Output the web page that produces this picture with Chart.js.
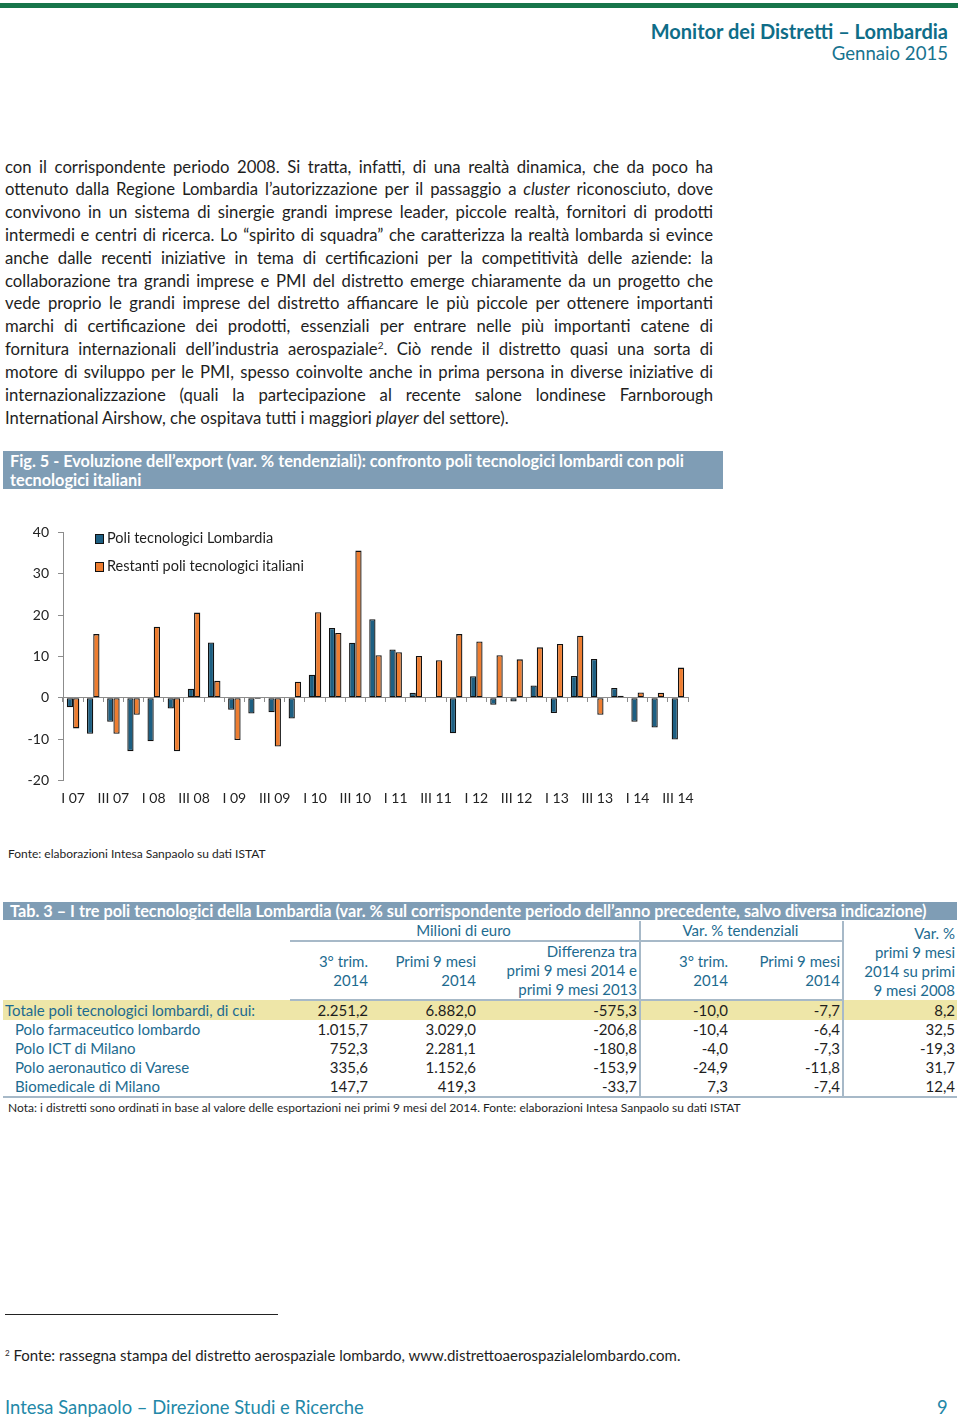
<!DOCTYPE html>
<html lang="it">
<head>
<meta charset="utf-8">
<title>Monitor dei Distretti – Lombardia</title>
<script src="https://cdn.jsdelivr.net/npm/chart.js@4.4.1/dist/chart.umd.min.js"></script>
<style>
  html,body{margin:0;padding:0;background:#fff;}
  body{width:960px;height:1421px;position:relative;overflow:hidden;font-family:Lato,"Noto Sans",sans-serif;color:#1e1e1e;}
  .abs{position:absolute;}
  #topbar{left:0;top:3px;width:958px;height:5px;background:#17754a;}
  #hdr1{right:12px;top:19px;font-size:20px;font-weight:700;color:#0f6d88;}
  #hdr2{right:12px;top:42px;font-size:18.6px;color:#17738f;}
  #body{left:5px;top:155.6px;width:708px;font-size:16.7px;line-height:22.82px;}
  #body div{text-align:justify;text-align-last:justify;}
  #body div.last{text-align:left;text-align-last:left;}
  sup{font-size:10px;line-height:0;vertical-align:6px;}
  .bar{background:#7f9db5;color:#fff;font-weight:700;}
  #figcap{left:3px;top:451px;width:713px;height:38px;padding-left:7px;font-size:16.3px;line-height:19px;}
  #chartbox{left:0;top:515px;width:720px;height:300px;}
  #legend{left:95px;top:524px;font-size:14.5px;line-height:28px;}
  #legend span.sw{display:inline-block;width:7px;height:8px;border:1.3px solid #111;margin-right:3px;vertical-align:-1px;}
  #fonte{left:8px;top:846px;font-size:12px;}
  #tabcap{left:3px;top:902px;width:947px;height:18px;padding-left:7px;font-size:16.3px;line-height:18px;}
  table{position:absolute;left:3px;top:921px;width:954px;border-collapse:collapse;table-layout:fixed;font-size:15px;}
  td{padding:0 2px 0 0;line-height:19px;white-space:nowrap;}
  .hd{color:#1d6b90;text-align:right;vertical-align:middle;}
  .ctr{text-align:center;}
  .ul{border-bottom:2px solid #a7b9c8;}
  .vl{border-left:2px solid #a7b9c8;}
  .hline td{border-bottom:2px solid #a7b9c8;}
  .num{text-align:right;}
  .lab{color:#1d6b90;padding-left:12px;}
  .tot td{background:#eee6a8;}
  .tot td.lab{padding-left:2px;}
  .lastrow td{border-bottom:2px solid #a7b9c8;}
  #nota{left:8px;top:1100px;font-size:12px;}
  #fnline{left:5px;top:1314px;width:273px;height:1px;background:#222;}
  #fn{left:5px;top:1346px;font-size:15px;}
  #fn sup{font-size:8px;vertical-align:5px;}
  #foot{left:5px;top:1396px;font-size:18.4px;color:#2388a8;}
  #page{left:937px;top:1396px;font-size:18.4px;color:#2388a8;}
</style>
</head>
<body>
<div id="topbar" class="abs"></div>
<div id="hdr1" class="abs">Monitor dei Distretti – Lombardia</div>
<div id="hdr2" class="abs">Gennaio 2015</div>

<div id="body" class="abs">
  <div>con il corrispondente periodo 2008. Si tratta, infatti, di una realtà dinamica, che da poco ha</div>
  <div>ottenuto dalla Regione Lombardia l’autorizzazione per il passaggio a <i>cluster</i> riconosciuto, dove</div>
  <div>convivono in un sistema di sinergie grandi imprese leader, piccole realtà, fornitori di prodotti</div>
  <div>intermedi e centri di ricerca. Lo “spirito di squadra” che caratterizza la realtà lombarda si evince</div>
  <div>anche dalle recenti iniziative in tema di certificazioni per la competitività delle aziende: la</div>
  <div>collaborazione tra grandi imprese e PMI del distretto emerge chiaramente da un progetto che</div>
  <div>vede proprio le grandi imprese del distretto affiancare le più piccole per ottenere importanti</div>
  <div>marchi di certificazione dei prodotti, essenziali per entrare nelle più importanti catene di</div>
  <div>fornitura internazionali dell’industria aerospaziale<sup>2</sup>. Ciò rende il distretto quasi una sorta di</div>
  <div>motore di sviluppo per le PMI, spesso coinvolte anche in prima persona in diverse iniziative di</div>
  <div>internazionalizzazione (quali la partecipazione al recente salone londinese Farnborough</div>
  <div class="last">International Airshow, che ospitava tutti i maggiori <i>player</i> del settore).</div>
</div>

<div id="figcap" class="abs bar">Fig. 5 - Evoluzione dell’export (var. % tendenziali): confronto poli tecnologici lombardi con poli<br>tecnologici italiani</div>

<div id="chartbox" class="abs"><canvas id="chart" width="720" height="300"></canvas></div>
<div id="legend" class="abs"></div>

<div id="fonte" class="abs">Fonte: elaborazioni Intesa Sanpaolo su dati ISTAT</div>

<div id="tabcap" class="abs bar">Tab. 3 – I tre poli tecnologici della Lombardia (var. % sul corrispondente periodo dell’anno precedente, salvo diversa indicazione)</div>
<table>
  <colgroup><col style="width:287px"><col style="width:80px"><col style="width:108px"><col style="width:162px"><col style="width:90px"><col style="width:113px"><col style="width:114px"></colgroup>
  <tr>
    <td rowspan="2"></td>
    <td colspan="3" class="hd ctr ul" style="height:18px">Milioni di euro</td>
    <td colspan="2" class="hd ctr ul vl">Var. % tendenziali</td>
    <td rowspan="2" class="hd vl" style="vertical-align:bottom">Var. %<br>primi 9 mesi<br>2014 su primi<br>9 mesi 2008</td>
  </tr>
  <tr class="hline">
    <td class="hd" style="height:57px">3° trim.<br>2014</td>
    <td class="hd">Primi 9 mesi<br>2014</td>
    <td class="hd">Differenza tra<br>primi 9 mesi 2014 e<br>primi 9 mesi 2013</td>
    <td class="hd vl">3° trim.<br>2014</td>
    <td class="hd">Primi 9 mesi<br>2014</td>
  </tr>
  <tr class="tot"><td class="lab">Totale poli tecnologici lombardi, di cui:</td><td class="num">2.251,2</td><td class="num">6.882,0</td><td class="num">-575,3</td><td class="num vl">-10,0</td><td class="num">-7,7</td><td class="num vl">8,2</td></tr>
  <tr><td class="lab">Polo farmaceutico lombardo</td><td class="num">1.015,7</td><td class="num">3.029,0</td><td class="num">-206,8</td><td class="num vl">-10,4</td><td class="num">-6,4</td><td class="num vl">32,5</td></tr>
  <tr><td class="lab">Polo ICT di Milano</td><td class="num">752,3</td><td class="num">2.281,1</td><td class="num">-180,8</td><td class="num vl">-4,0</td><td class="num">-7,3</td><td class="num vl">-19,3</td></tr>
  <tr><td class="lab">Polo aeronautico di Varese</td><td class="num">335,6</td><td class="num">1.152,6</td><td class="num">-153,9</td><td class="num vl">-24,9</td><td class="num">-11,8</td><td class="num vl">31,7</td></tr>
  <tr class="lastrow"><td class="lab">Biomedicale di Milano</td><td class="num">147,7</td><td class="num">419,3</td><td class="num">-33,7</td><td class="num vl">7,3</td><td class="num">-7,4</td><td class="num vl">12,4</td></tr>
</table>
<div id="nota" class="abs">Nota: i distretti sono ordinati in base al valore delle esportazioni nei primi 9 mesi del 2014. Fonte: elaborazioni Intesa Sanpaolo su dati ISTAT</div>

<div id="fnline" class="abs"></div>
<div id="fn" class="abs"><sup>2</sup> Fonte: rassegna stampa del distretto aerospaziale lombardo, www.distrettoaerospazialelombardo.com.</div>
<div id="foot" class="abs">Intesa Sanpaolo – Direzione Studi e Ricerche</div>
<div id="page" class="abs">9</div>

<script>
// dati (var. % tendenziali)
const quarters = [
  'I 07','II 07','III 07','IV 07',
  'I 08','II 08','III 08','IV 08',
  'I 09','II 09','III 09','IV 09',
  'I 10','II 10','III 10','IV 10',
  'I 11','II 11','III 11','IV 11',
  'I 12','II 12','III 12','IV 12',
  'I 13','II 13','III 13','IV 13',
  'I 14','II 14','III 14'
];
const lombardia = [
  -2.3, -8.7, -5.8, -12.9,
  -10.5, -2.6, 2.2, 13.4,
  -2.9, -3.8, -3.5, -5.0,
  5.6, 16.9, 13.3, 19.0,
  11.7, 1.2, 0.1, -8.6,
  5.2, -1.7, -0.9, 3.0,
  -3.7, 5.3, 9.4, 2.4,
  -5.8, -7.2, -10.1
];
const restanti = [
  -7.4, 15.4, -8.7, -4.1,
  17.2, -12.9, 20.6, 4.1,
  -10.2, -0.3, -11.8, 3.9,
  20.7, 15.7, 35.6, 10.3,
  11.0, 10.1, 9.1, 15.4,
  13.6, 10.3, 9.3, 12.2,
  13.0, 15.0, -4.1, 0.5,
  1.3, 1.2, 7.3
];
const seriesNames = ['Poli tecnologici Lombardia', 'Restanti poli tecnologici italiani'];
const seriesColors = ['#1d5f82', '#ee7d30'];
const yMin = -20, yMax = 40, yStep = 10;

(() => {
  'use strict';
  Chart.defaults.font.family = 'Lato, "Noto Sans", sans-serif';
  Chart.defaults.color = '#222';

  const axisGrey = '#8c8c8c';
  const bar = (label, data, color) => ({
    label, data, backgroundColor: color,
    borderColor: '#111', borderWidth: 1.3, borderSkipped: false,
    categoryPercentage: 0.62, barPercentage: 1
  });

  new Chart(document.getElementById('chart').getContext('2d'), {
    type: 'bar',
    data: {
      labels: quarters,
      datasets: [
        bar(seriesNames[0], lombardia, seriesColors[0]),
        bar(seriesNames[1], restanti, seriesColors[1])
      ]
    },
    options: {
      responsive: false,
      animation: false,
      events: [],
      layout: { padding: { top: 16, left: 0, right: 32, bottom: 0 } },
      plugins: { legend: { display: false }, tooltip: { enabled: false } },
      scales: {
        x: {
          type: 'category', offset: true,
          grid: { display: false, drawTicks: false, offset: true },
          border: { display: false },
          ticks: {
            autoSkip: false, maxRotation: 0, padding: 10,
            font: { size: 14 }, color: '#222',
            callback(v, i) { return i % 2 === 0 ? this.getLabelForValue(v) : ''; }
          },
          afterFit(s) { s.height = 34.5; }
        },
        x2: {
          type: 'category', axis: 'x', position: { y: 0 }, offset: true,
          grid: { display: true, offset: true, drawOnChartArea: false, drawTicks: true, tickLength: 4, color: axisGrey },
          border: { display: true, color: axisGrey, width: 1 },
          ticks: { display: false }
        },
        y: {
          min: yMin, max: yMax,
          ticks: { stepSize: yStep, padding: 9, font: { size: 14 }, color: '#222' },
          grid: { display: true, drawOnChartArea: false, drawTicks: true, tickLength: 5, color: axisGrey },
          border: { color: axisGrey, width: 1 },
          afterFit(s) { s.width = 63; }
        }
      }
    }
  });

  // legenda html (dentro l'area del grafico, come nell'originale)
  document.getElementById('legend').innerHTML = seriesNames
    .map((n, i) => `<div><span class="sw" style="background:${seriesColors[i]}"></span>${n}</div>`)
    .join('');
})();
</script>
</body>
</html>
